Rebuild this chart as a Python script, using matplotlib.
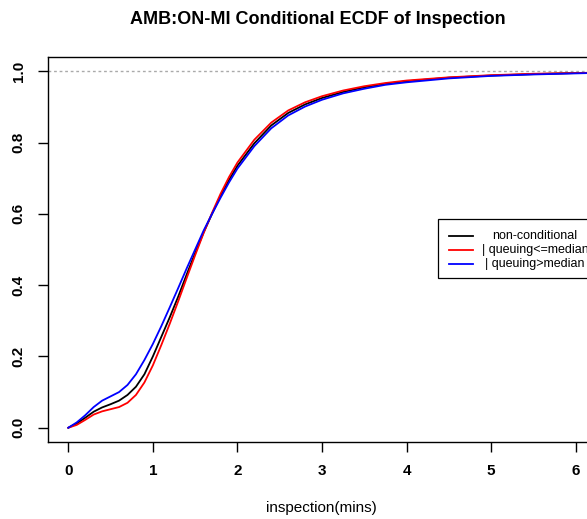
import matplotlib.pyplot as plt
from matplotlib.patches import Rectangle
from matplotlib.lines import Line2D

plt.rcParams['font.family'] = ['Liberation Sans', 'DejaVu Sans']

x = [0, 0.1, 0.2, 0.3, 0.4, 0.5, 0.6, 0.7, 0.8, 0.9, 1.0, 1.1, 1.2, 1.3, 1.4,
     1.5, 1.6, 1.7, 1.8, 1.9, 2.0, 2.2, 2.4, 2.6, 2.8, 3.0, 3.25, 3.5, 3.75,
     4.0, 4.5, 5.0, 5.5, 6.0, 6.5]

ecdf_all = [0.0, 0.012, 0.028, 0.045, 0.057, 0.066, 0.076, 0.092, 0.115, 0.150,
            0.200, 0.255, 0.310, 0.368, 0.430, 0.490, 0.548, 0.600, 0.650, 0.695,
            0.735, 0.798, 0.848, 0.883, 0.907, 0.925, 0.942, 0.955, 0.965,
            0.972, 0.982, 0.988, 0.992, 0.995, 0.997]
ecdf_low = [0.0, 0.008, 0.022, 0.037, 0.046, 0.052, 0.058, 0.070, 0.092, 0.127,
            0.175, 0.232, 0.292, 0.355, 0.420, 0.484, 0.546, 0.603, 0.656, 0.703,
            0.744, 0.808, 0.856, 0.890, 0.913, 0.930, 0.946, 0.958, 0.967,
            0.974, 0.983, 0.989, 0.993, 0.995, 0.997]
ecdf_high = [0.0, 0.015, 0.035, 0.058, 0.076, 0.088, 0.100, 0.120, 0.150, 0.190,
             0.235, 0.285, 0.338, 0.392, 0.447, 0.500, 0.553, 0.600, 0.645, 0.688,
             0.727, 0.790, 0.840, 0.876, 0.901, 0.920, 0.938, 0.951, 0.962,
             0.969, 0.980, 0.987, 0.991, 0.994, 0.997]

labels = ['non-conditional', '| queuing<=median', '| queuing>median']
colors = ['black', 'red', 'blue']

W, H = 587, 519
fig = plt.figure(figsize=(W / 100, H / 100), dpi=100)
ax = fig.add_axes([48 / W, 1 - 442 / H, 548 / W, 385 / H])

ax.axhline(1.0, color='#aaaaaa', lw=1, ls=(0, (2, 2)))
for ys, c in zip([ecdf_all, ecdf_low, ecdf_high], colors):
    ax.plot(x, ys, color=c, lw=1.3)

ax.set_xlim(-0.24, 6.24)
ax.set_ylim(-0.04, 1.04)
ax.set_xticks(range(7))
ax.set_yticks([0, 0.2, 0.4, 0.6, 0.8, 1.0])
ax.set_yticklabels(['0.0', '0.2', '0.4', '0.6', '0.8', '1.0'], rotation=90, va='center')
ax.tick_params(direction='out', length=7, width=1, labelsize=11, pad=9)
for lab in ax.get_xticklabels() + ax.get_yticklabels():
    lab.set_fontweight('bold')
for s in ax.spines.values():
    s.set_linewidth(1)

fig.text(318 / W, 1 - 19 / H, 'AMB:ON-MI Conditional ECDF of Inspection',
         ha='center', va='center', fontsize=13, fontweight='bold')
fig.text(321 / W, 1 - 508 / H, 'inspection(mins)', ha='center', va='center',
         fontsize=11)

# legend box (R style, centred text, running off the right edge)
fig.patches.append(Rectangle((438 / W, 1 - 278 / H), 170 / W, 59 / H,
                             transform=fig.transFigure, fill=True, facecolor='white',
                             edgecolor='black', lw=0.9, zorder=5))
for i, (lab, c) in enumerate(zip(labels, colors)):
    yy = 1 - (236 + 14 * i) / H
    fig.lines.append(Line2D([449 / W, 473 / W], [yy, yy], transform=fig.transFigure,
                            color=c, lw=1.3, zorder=6))
    fig.text(535 / W, yy, lab, ha='center', va='center', fontsize=9, zorder=6)

fig.savefig('out.png', dpi=100)
